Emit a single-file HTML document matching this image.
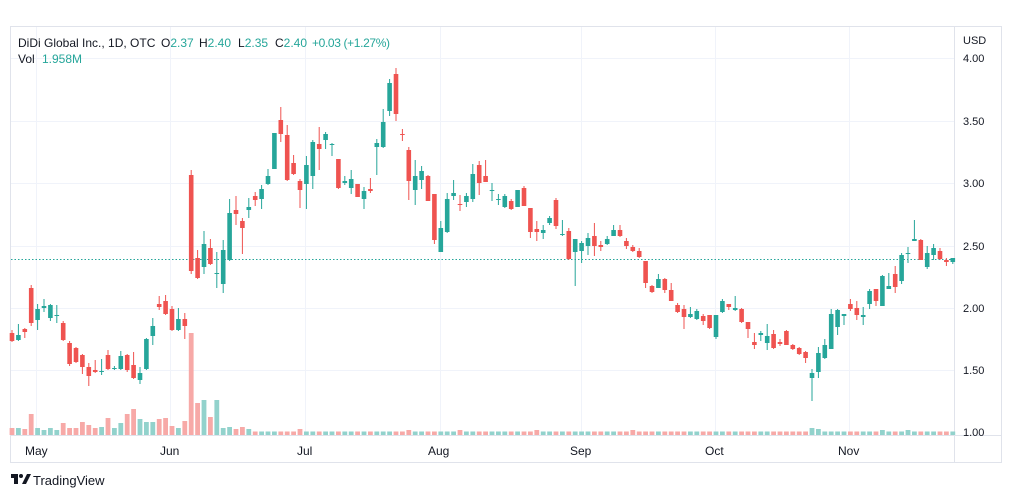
<!DOCTYPE html>
<html><head><meta charset="utf-8"><style>
html,body{margin:0;padding:0;background:#fff;width:1012px;height:498px;overflow:hidden}
svg{display:block;font-family:"Liberation Sans",sans-serif}
.g{fill:#26a69a}.r{fill:#ef5350}.vg{fill:#92d2cc}.vr{fill:#f7a9a7}
</style></head><body>
<svg width="1012" height="498" viewBox="0 0 1012 498">
<rect x="10.5" y="26.5" width="991" height="436" fill="#fff" stroke="#e0e3eb"/>
<g stroke="#f0f3fa" stroke-width="1">
<line x1="11" x2="954" y1="58.5" y2="58.5"/><line x1="11" x2="954" y1="121.5" y2="121.5"/><line x1="11" x2="954" y1="183.5" y2="183.5"/><line x1="11" x2="954" y1="246.5" y2="246.5"/><line x1="11" x2="954" y1="308.5" y2="308.5"/><line x1="11" x2="954" y1="370.5" y2="370.5"/>
<line x1="36.5" x2="36.5" y1="27" y2="436"/><line x1="170.5" x2="170.5" y1="27" y2="436"/><line x1="305.5" x2="305.5" y1="27" y2="436"/><line x1="440.5" x2="440.5" y1="27" y2="436"/><line x1="581.5" x2="581.5" y1="27" y2="436"/><line x1="715.5" x2="715.5" y1="27" y2="436"/><line x1="849.5" x2="849.5" y1="27" y2="436"/>
</g>
<line x1="954.5" x2="954.5" y1="27" y2="462" stroke="#e0e3eb"/>
<line x1="11" x2="1001" y1="435.5" y2="435.5" stroke="#e0e3eb"/>
<line x1="11" x2="954" y1="259.5" y2="259.5" stroke="#26a69a" stroke-dasharray="1.5 2"/>
<g id="c"></g>
<g font-size="11" fill="#131722">
<text x="963" y="44">USD</text>
<text x="963" y="62">4.00</text><text x="963" y="125">3.50</text><text x="963" y="187">3.00</text><text x="963" y="250">2.50</text><text x="963" y="312">2.00</text><text x="963" y="374">1.50</text><text x="963" y="436">1.00</text>
</g>
<g font-size="12" fill="#131722">
<text x="25" y="455">May</text><text x="160" y="455">Jun</text><text x="297" y="455">Jul</text><text x="428" y="455">Aug</text><text x="570" y="455">Sep</text><text x="705" y="455">Oct</text><text x="838" y="455">Nov</text>
</g>
<g font-size="12">
<text x="18" y="47" fill="#131722">DiDi Global Inc., 1D, OTC</text>
<text x="161" y="47" fill="#131722">O<tspan fill="#26a69a">2.37</tspan></text>
<text x="199" y="47" fill="#131722">H<tspan fill="#26a69a">2.40</tspan></text>
<text x="238" y="47" fill="#131722">L<tspan fill="#26a69a">2.35</tspan></text>
<text x="275" y="47" fill="#131722">C<tspan fill="#26a69a">2.40</tspan></text>
<text x="312" y="47" fill="#26a69a" textLength="78">+0.03 (+1.27%)</text>
<text x="18" y="63" fill="#131722">Vol</text>
<text x="42" y="63" fill="#26a69a">1.958M</text>
</g>
<g fill="#131722"><rect x="11" y="474" width="7" height="4"/><rect x="14" y="474" width="4" height="10"/><circle cx="21" cy="476" r="2"/><path d="M22 484 L27 474 L31 474 L26 484Z"/></g>
<text x="33" y="485" font-size="13" fill="#131722">TradingView</text>
</svg>
<script>
var d="r 333 341 330 342|g 335 340 324 341|r 329 332 328 338|r 288 323 285 326|g 309 320 304 330|g 306 308 299 312|g 305 318 304 321|g 315 316 305 323|r 323 340 321 341|r 343 364 341 366|r 348 362 347 363|r 355 367 354 374|r 367 376 363 386|r 370 372 360 373|g 371 372 359 375|r 355 369 350 370|g 368 369 366 370|g 356 369 351 370|r 355 370 354 372|r 365 378 352 379|g 373 380 367 384|g 339 369 338 370|g 326 336 318 345|r 304 307 296 310|r 301 314 295 315|r 309 330 306 331|g 319 330 308 331|r 319 326 313 339|r 175 271 170 274|r 258 278 250 279|g 244 267 231 274|r 248 264 239 265|g 273 274 252 288|g 250 284 240 293|g 213 260 199 261|r 210 214 196 225|r 221 228 218 254|g 207 210 198 218|r 196 200 192 206|g 189 199 185 209|g 176 184 169 185|g 133 169 133 169|r 120 134 107 142|r 135 180 125 181|r 163 174 155 175|r 181 190 179 208|g 165 184 156 209|g 142 176 140 189|r 144 149 127 170|g 134 140 132 149|g 144 145 143 156|r 159 188 159 189|g 181 183 176 185|g 179 188 170 194|r 184 197 184 197|g 191 199 187 209|r 189 191 178 193|g 143 147 139 175|g 122 147 109 148|g 83 111 79 116|r 74 114 68 121|r 134 135 129 141|r 150 181 147 200|g 176 190 160 205|g 171 180 166 189|r 176 201 175 201|r 194 240 194 244|g 228 252 221 252|g 199 232 193 233|g 193 196 180 200|r 204 205 195 211|g 196 202 193 207|g 174 199 164 202|r 165 183 161 195|r 176 182 160 182|g 190 191 183 201|g 199 200 194 205|g 196 207 194 208|r 201 209 199 210|g 190 207 190 207|r 188 206 186 206|r 208 232 208 238|r 229 232 221 241|g 230 233 225 239|g 218 223 216 225|r 200 226 198 229|g 234 235 220 236|r 231 259 228 260|g 239 252 239 286|g 243 251 241 263|g 238 246 233 255|r 236 246 223 256|r 245 247 241 251|g 239 244 236 245|g 230 236 225 236|r 230 236 225 237|r 241 246 238 249|r 247 251 245 252|r 251 257 248 258|r 261 283 261 288|r 286 292 285 293|g 279 288 274 288|r 279 290 278 293|r 290 301 283 301|r 305 312 303 313|r 309 317 305 329|g 314 317 307 318|g 311 319 309 320|r 316 321 314 325|r 315 328 315 329|g 315 337 315 339|g 301 312 299 313|r 304 307 304 310|g 308 310 296 311|r 309 322 308 323|r 322 329 322 338|r 342 345 333 349|g 333 335 331 341|g 336 343 324 350|r 334 348 330 349|r 342 344 339 346|r 331 345 330 345|r 345 349 344 350|r 348 354 347 355|r 352 358 351 363|g 373 378 369 401|g 353 372 347 378|g 345 358 339 359|g 314 349 309 349|g 310 327 309 335|g 314 316 314 325|r 304 309 299 311|r 308 315 301 320|g 315 317 307 325|g 291 304 289 309|r 289 301 289 306|g 276 306 275 306|g 286 289 273 289|r 274 287 266 293|g 255 281 253 284|g 253 254 247 263|g 239 241 220 241|r 240 260 239 260|g 253 267 246 269|g 248 255 244 260|r 251 259 248 260|r 260 262 258 266|g 258 262 258 264".split("|");
var v=[428,428,429,414,428,430,428,430,423,428,428,422,425,428,427,418,428,423,414,409,419,422,422,419,418,426,428,421,333,403,400,417,400,428,427,429,427,429];
var big={45:429,62:430,70:430,82:430,97:430,125:428,126:429,136:430,140:430};
var s="";
for(var i=0;i<d.length;i++){var p=d[i].split(" ");var c=p[0];var x=12+i*6.4;
var vt=i<v.length?v[i]:(big[i]||431.5);
s+='<rect class="v'+c+'" x="'+(x-2.4)+'" y="'+vt+'" width="4.8" height="'+(435-vt)+'"/>';}
for(var i=0;i<d.length;i++){var p=d[i].split(" ");var c=p[0],t=+p[1],b=+p[2],wt=+p[3],wb=+p[4];var x=12+i*6.4;
s+='<rect class="'+c+'" x="'+(x-0.5)+'" y="'+wt+'" width="1" height="'+Math.max(1,wb-wt)+'"/>';
s+='<rect class="'+c+'" x="'+(x-2.3)+'" y="'+t+'" width="4.6" height="'+Math.max(1,b-t)+'"/>';}
document.getElementById("c").innerHTML=s;
</script>
</body></html>
